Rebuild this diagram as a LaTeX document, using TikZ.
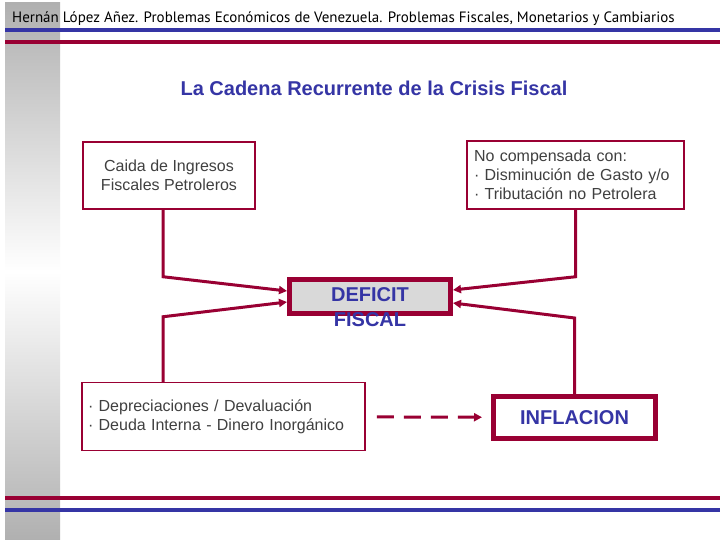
\documentclass[tikz,border=0pt]{standalone}
\usepackage{fontspec}
\setmainfont{Liberation Sans}
\newfontfamily\headfont{PT Sans}
\usetikzlibrary{arrows.meta}
\usepackage{xcolor}
\definecolor{wine}{HTML}{990033}
\definecolor{navy}{HTML}{3535A5}
\definecolor{textgrey}{HTML}{404040}
\definecolor{boxgrey}{HTML}{D9D9D9}
\definecolor{bandgrey}{HTML}{B0B0B0}

\begin{document}
\begin{tikzpicture}[x=1pt,y=-1pt,
  box/.style={draw=wine,line width=1.5pt,fill=white,text=textgrey,font=\fontsize{16}{19}\selectfont,inner sep=0pt},
  keybox/.style={draw=wine,line width=5pt,text=navy,font=\fontsize{20}{25}\selectfont\bfseries,inner sep=0pt},
  link/.style={wine,line width=3pt,-{Triangle[length=8pt,width=8pt]}}]
\useasboundingbox (0,0) rectangle (720,540);
\fill[white] (0,0) rectangle (720,540);
% side band and rules
\shade[top color=bandgrey,bottom color=bandgrey,middle color=white] (5,3) rectangle (60,540);
\draw[navy,line width=3.5pt] (5,30) -- (720,30);
\draw[wine,line width=4pt] (5,42) -- (720,42);
\draw[wine,line width=4pt] (5,498) -- (720,498);
\draw[navy,line width=4pt] (5,510) -- (720,510);
\node[anchor=base west,inner sep=0pt,font=\headfont\fontsize{15}{17}\selectfont] (header) at (12,23) {Hernán López Añez. Problemas Económicos de Venezuela. Problemas Fiscales, Monetarios y Cambiarios};
\node[text=navy,font=\fontsize{20}{24}\selectfont\bfseries] (title) at (374,88) {La Cadena Recurrente de la Crisis Fiscal};
% boxes
\node[box,minimum width=172,minimum height=67,align=center] (caida) at (169,175.5) {Caida de Ingresos\\Fiscales Petroleros};
\node[box,minimum width=217,minimum height=68,text width=203pt,align=left] (nocomp) at (575.5,175) {No compensada con:\\· Disminución de Gasto y/o\\· Tributación no Petrolera};
\node[box,minimum width=283,minimum height=68,text width=271pt,align=left] (deprec) at (223.5,416.5) {· Depreciaciones / Devaluación\\· Deuda Interna - Dinero Inorgánico};
\node[keybox,fill=boxgrey,minimum width=161,minimum height=34] (deficit) at (370,296) {};
\node[text=navy,font=\fontsize{20}{25}\selectfont\bfseries,align=center,inner sep=0pt] (deficittext) at (370,307.5) {DEFICIT\\FISCAL};
\node[keybox,fill=white,minimum width=162,minimum height=42] (inflacion) at (574.5,417.5) {INFLACION};
% connectors
\draw[link] ([xshift=-6pt]caida.south) -- ++(0,67) -- ([yshift=5pt]deficit.west);
\draw[link] ([xshift=-60.5pt]deprec.north) -- ++(0,-65) -- ([yshift=-6pt]deficit.west);
\draw[link] (nocomp.south) -- ++(0,67) -- ([yshift=6pt]deficit.east);
\draw[link] (inflacion.north) -- ++(0,-76) -- ([yshift=-7pt]deficit.east);
\draw[link,dash pattern=on 17pt off 10pt,shorten <=11pt,shorten >=9pt] (deprec) -- (inflacion);
\end{tikzpicture}
\end{document}
